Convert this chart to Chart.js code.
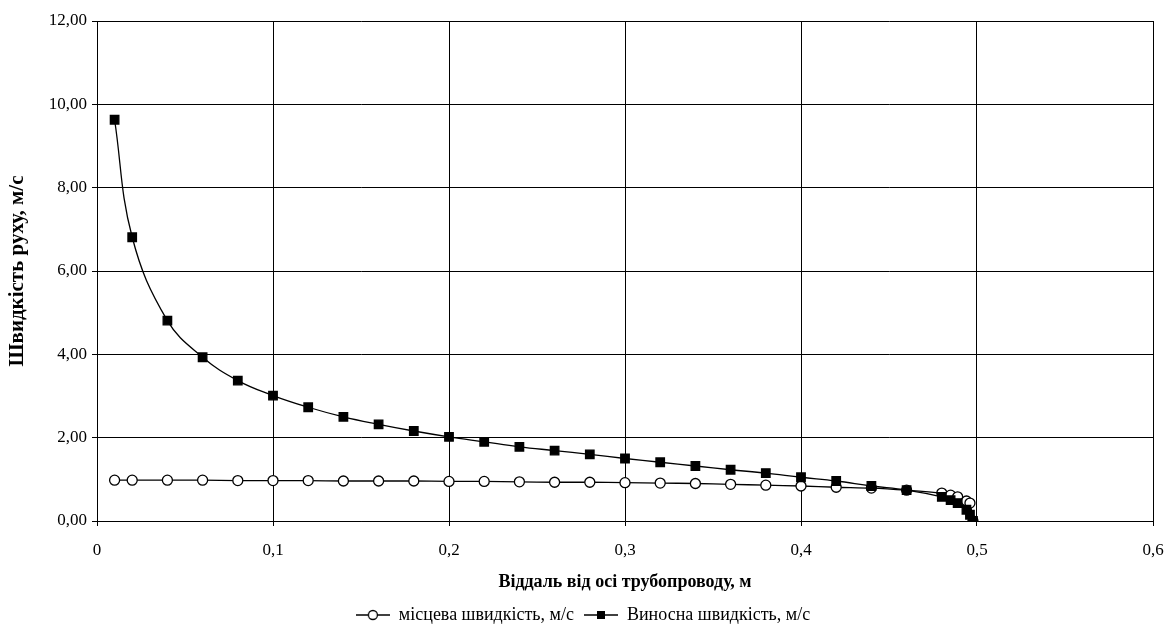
<!DOCTYPE html>
<html>
<head>
<meta charset="utf-8">
<script src="https://cdn.jsdelivr.net/npm/chart.js@4/dist/chart.umd.min.js"></script>
<style>
  body { margin: 0; background: #fff; }
</style>
</head>
<body>
<canvas id="myChart" width="1166" height="624"></canvas>
<script>
// distance from pipe axis, m
const distLocal = [0.01, 0.02, 0.04, 0.06, 0.08, 0.10, 0.12, 0.14, 0.16, 0.18, 0.20, 0.22, 0.24, 0.26, 0.28, 0.30, 0.32, 0.34, 0.36, 0.38, 0.40, 0.42, 0.44, 0.46, 0.48, 0.485, 0.489, 0.494, 0.496, 0.4977];
const localSpeed = [0.98, 0.98, 0.98, 0.98, 0.97, 0.97, 0.97, 0.96, 0.96, 0.96, 0.95, 0.95, 0.94, 0.93, 0.93, 0.92, 0.91, 0.90, 0.88, 0.86, 0.84, 0.81, 0.79, 0.74, 0.67, 0.62, 0.58, 0.48, 0.43, 0.00];

const distBulk = [0.01, 0.02, 0.04, 0.06, 0.08, 0.10, 0.12, 0.14, 0.16, 0.18, 0.20, 0.22, 0.24, 0.26, 0.28, 0.30, 0.32, 0.34, 0.36, 0.38, 0.40, 0.42, 0.44, 0.46, 0.48, 0.485, 0.489, 0.494, 0.496, 0.4977];
const bulkSpeed = [9.63, 6.81, 4.81, 3.93, 3.37, 3.01, 2.73, 2.50, 2.32, 2.16, 2.02, 1.90, 1.78, 1.69, 1.60, 1.50, 1.41, 1.32, 1.23, 1.15, 1.05, 0.96, 0.84, 0.74, 0.58, 0.50, 0.43, 0.27, 0.15, 0.00];

const seriesNames = ['місцева швидкість, м/с', 'Виносна швидкість, м/с'];

const FONT = "'Liberation Serif', 'Times New Roman', serif";

const toPoints = (xs, ys) => xs.map((x, i) => ({ x: x, y: ys[i] }));

// legend symbol: line with marker, like the spreadsheet legend
let legendIcon = (square) => {
  let c = document.createElement('canvas');
  c.width = 34; c.height = 14;
  let ctx = c.getContext('2d');
  ctx.strokeStyle = '#000';
  ctx.lineWidth = 1.3;
  ctx.beginPath(); ctx.moveTo(0, 7); ctx.lineTo(34, 7); ctx.stroke();
  if (square) {
    ctx.fillStyle = '#000';
    ctx.fillRect(13, 3, 8, 8);
  } else {
    ctx.fillStyle = '#fff';
    ctx.beginPath(); ctx.arc(17, 7, 4.5, 0, Math.PI * 2); ctx.fill(); ctx.stroke();
  }
  return c;
};

const icons = [legendIcon(false), legendIcon(true)];

// keep the legend strip a fixed height so the plot area lands where the original is
const legendHeight = {
  id: 'legendHeight',
  beforeUpdate(chart) {
    let lg = chart.legend;
    if (lg && !lg._fixed) {
      const fit = lg.fit;
      lg.fit = function () { fit.call(this); this.height = 28; };
      lg._fixed = true;
    }
  }
};

const data = {
  datasets: [
    {
      label: seriesNames[0],
      data: toPoints(distLocal, localSpeed),
      borderColor: '#000',
      borderWidth: 1.3,
      pointStyle: 'circle',
      pointRadius: 5,
      pointBorderColor: '#000',
      pointBackgroundColor: '#fff',
      pointBorderWidth: 1.3,
      tension: 0.3,
      order: 2
    },
    {
      label: seriesNames[1],
      data: toPoints(distBulk, bulkSpeed),
      borderColor: '#000',
      borderWidth: 1.3,
      pointStyle: 'rect',
      pointRadius: 6,
      pointBorderColor: '#000',
      pointBackgroundColor: '#000',
      tension: 0.4,
      order: 1
    }
  ]
};

const config = {
  type: 'line',
  data,
  plugins: [legendHeight],
  options: {
    responsive: false,
    devicePixelRatio: 1,
    animation: false,
    layout: { padding: { left: 0, right: 0, top: 21, bottom: 0 } },
    plugins: {
      legend: {
        position: 'bottom',
        labels: {
          usePointStyle: true,
          pointStyleWidth: 34,
          boxHeight: 14,
          padding: 10,
          color: '#000',
          font: { family: FONT, size: 18 },
          generateLabels: (chart) => chart.data.datasets.map((ds, i) => ({
            text: ds.label,
            pointStyle: icons[i],
            fillStyle: '#fff',
            strokeStyle: '#000',
            lineWidth: 0,
            datasetIndex: i,
            fontColor: '#000'
          }))
        }
      },
      tooltip: { enabled: false }
    },
    scales: {
      x: {
        type: 'linear',
        min: 0,
        max: 0.6,
        ticks: {
          stepSize: 0.1,
          color: '#000',
          padding: 14,
          font: { family: FONT, size: 17 },
          callback: (v) => v === 0 ? '0' : v.toFixed(1).replace('.', ',')
        },
        grid: { color: '#000', lineWidth: 1, tickLength: 5, drawTicks: true },
        border: { color: '#000', width: 1 },
        title: {
          display: true,
          text: 'Віддаль від осі трубопроводу, м',
          color: '#000',
          font: { family: FONT, size: 18, weight: 'bold' },
          padding: { top: 0, bottom: 3 }
        },
        afterFit: (scale) => {
          scale.height = 75;
          scale.paddingRight = 13;
          scale.paddingLeft = 0;
        }
      },
      y: {
        min: 0,
        max: 12,
        ticks: {
          stepSize: 2,
          color: '#000',
          padding: 5,
          font: { family: FONT, size: 17 },
          callback: (v) => v.toFixed(2).replace('.', ',')
        },
        grid: { color: '#000', lineWidth: 1, tickLength: 5 },
        border: { color: '#000', width: 1 },
        title: {
          display: true,
          text: 'Швидкість руху, м/с',
          color: '#000',
          font: { family: FONT, size: 21, weight: 'bold' },
          padding: { top: 5, bottom: 4 }
        },
        afterFit: (scale) => { scale.width = 97; }
      }
    }
  }
};

let myChart = new Chart(document.getElementById('myChart'), config);
</script>
</body>
</html>
